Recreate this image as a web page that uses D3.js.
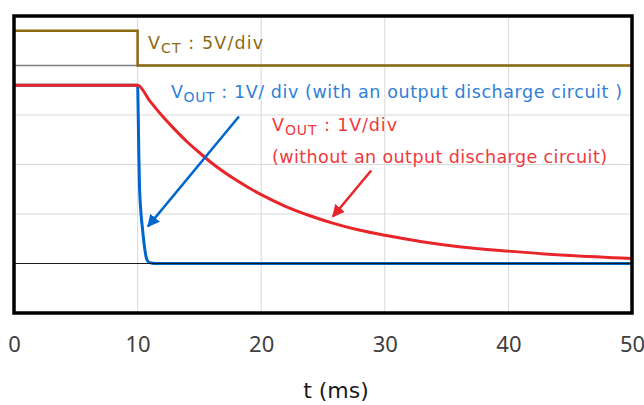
<!DOCTYPE html>
<html>
<head>
<meta charset="utf-8">
<script src="https://cdn.jsdelivr.net/npm/d3@7"></script>
<style>
  body { margin: 0; background: #fff; }
  svg { display: block; font-family: "DejaVu Sans", sans-serif; }
</style>
</head>
<body>
<div id="chart"></div>
<script>
// time axis (ms) and ticks
const xTicks = [0, 10, 20, 30, 40, 50];
const yGrid = [-1, 0, 1, 2, 3, 4, 5]; // divisions

// VCT (5V/div), in divisions
const vctT = [0, 10, 10, 50];
const vctV = [4.7, 4.7, 4.0, 4.0];

// VOUT without discharge circuit (1V/div)
const redT = [0, 10, 11, 12, 13, 14, 15, 16, 18, 20, 22, 24, 26, 28, 30, 33, 36, 40, 45, 50];
const redV = [3.6, 3.6, 3.28, 2.98, 2.71, 2.46, 2.24, 2.03, 1.68, 1.39, 1.15, 0.96, 0.80, 0.67, 0.57, 0.44, 0.34, 0.25, 0.16, 0.10];

// VOUT with discharge circuit (1V/div)
const blueT = [0, 10, 10.05, 10.1, 10.15, 10.25, 10.4, 10.5, 10.6, 10.7, 10.85, 11.1, 11.5, 50];
const blueV = [3.6, 3.6, 3.0, 2.2, 1.6, 1.1, 0.69, 0.45, 0.26, 0.12, 0.04, 0.01, 0, 0];

const width = 644;
const height = 405;
const pLeft = 14, pRight = 632, pTop = 16, pBottom = 313;

const svg = d3.select("#chart")
    .append("svg")
    .attr("width", width)
    .attr("height", height);

const x = d3.scaleLinear().domain([0, 50]).range([pLeft, pRight]);
const y = d3.scaleLinear().domain([-1, 5]).range([pBottom, pTop]);

// grid
svg.append("g")
    .selectAll("line")
    .data(xTicks.slice(1, -1))
    .enter()
    .append("line")
    .attr("x1", d => x(d)).attr("x2", d => x(d))
    .attr("y1", pTop).attr("y2", pBottom)
    .attr("stroke", "#d9d9d9").attr("stroke-width", 1);

svg.append("g")
    .selectAll("line")
    .data(yGrid.slice(1, -1))
    .enter()
    .append("line")
    .attr("x1", pLeft).attr("x2", pRight)
    .attr("y1", d => y(d)).attr("y2", d => y(d))
    .attr("stroke", d => d === 4 ? "#808080" : "#d9d9d9")
    .attr("stroke-width", d => d === 4 ? 1.5 : 1);

const line = d3.line()
    .x(d => x(d[0]))
    .y(d => y(d[1]));

// VCT
svg.append("path")
    .datum(vctT.map((t, i) => [t, vctV[i]]))
    .attr("fill", "none")
    .attr("stroke", "#8c6a12")
    .attr("stroke-width", 2.5)
    .attr("d", line);

// blue VOUT
svg.append("path")
    .datum(blueT.map((t, i) => [t, blueV[i]]))
    .attr("fill", "none")
    .attr("stroke", "#0066cc")
    .attr("stroke-width", 3)
    .attr("stroke-linejoin", "round")
    .attr("d", line.curve(d3.curveMonotoneX));

// zero line
svg.append("line")
    .attr("x1", pLeft).attr("x2", pRight)
    .attr("y1", y(0)).attr("y2", y(0))
    .attr("stroke", "#1a1a1a").attr("stroke-width", 1.2);

// red VOUT
svg.append("path")
    .datum(redT.map((t, i) => [t, redV[i]]))
    .attr("fill", "none")
    .attr("stroke", "#e8262a")
    .attr("stroke-width", 3)
    .attr("d", line.curve(d3.curveMonotoneX));

// arrows
const defs = svg.append("defs");
[["blue", "#0066cc"], ["red", "#e8262a"]].forEach(([id, c]) => {
    defs.append("marker")
        .attr("id", "arr-" + id)
        .attr("viewBox", "0 0 10 10")
        .attr("refX", 9).attr("refY", 5)
        .attr("markerWidth", 5).attr("markerHeight", 5)
        .attr("markerUnits", "strokeWidth")
        .attr("orient", "auto")
        .append("path")
        .attr("d", "M0,0 L10,5 L0,10 z")
        .attr("fill", c);
});

svg.append("line")
    .attr("x1", x(18.2)).attr("y1", y(2.97))
    .attr("x2", x(10.84)).attr("y2", y(0.75))
    .attr("stroke", "#0066cc").attr("stroke-width", 2.5)
    .attr("marker-end", "url(#arr-blue)");

svg.append("line")
    .attr("x1", x(28.9)).attr("y1", y(1.88))
    .attr("x2", x(25.8)).attr("y2", y(0.95))
    .attr("stroke", "#e8262a").attr("stroke-width", 2.5)
    .attr("marker-end", "url(#arr-red)");

// labels
function label(tx, ty, len, color, main, sub, rest) {
    const t = svg.append("text")
        .attr("x", tx).attr("y", ty)
        .attr("fill", color)
        .attr("textLength", len)
        .attr("lengthAdjust", "spacing")
        .style("font-size", "17.5px");
    t.append("tspan").text(main);
    if (sub) {
        t.append("tspan").attr("dy", 4).style("font-size", "14px").text(sub);
        t.append("tspan").attr("dy", -4).text(rest);
    }
    return t;
}
label(148, 49, 115, "#8c6a12", "V", "CT", " : 5V/div");
label(171, 98, 451, "#2f80d8", "V", "OUT", " : 1V/ div (with an output discharge circuit )");
label(272, 131, 125, "#f0393c", "V", "OUT", " : 1V/div");
label(272, 163, 335, "#f0393c", "(without an output discharge circuit)");

// frame
svg.append("rect")
    .attr("x", pLeft).attr("y", pTop)
    .attr("width", pRight - pLeft).attr("height", pBottom - pTop)
    .attr("fill", "none")
    .attr("stroke", "#000").attr("stroke-width", 3.5);

// x axis
const xAxis = svg.append("g")
    .attr("transform", `translate(0, ${pBottom + 39})`)
    .call(d3.axisBottom(x).tickValues(xTicks).tickSize(0).tickPadding(0));
xAxis.select(".domain").remove();
xAxis.selectAll("text")
    .attr("dy", 0)
    .attr("fill", "#404040")
    .style("font-family", "Noto Sans, sans-serif")
    .style("font-size", "22px");

svg.append("text")
    .attr("x", 336).attr("y", 398)
    .attr("text-anchor", "middle")
    .attr("fill", "#1a1a1a")
    .style("font-size", "22px")
    .text("t (ms)");
</script>
</body>
</html>
